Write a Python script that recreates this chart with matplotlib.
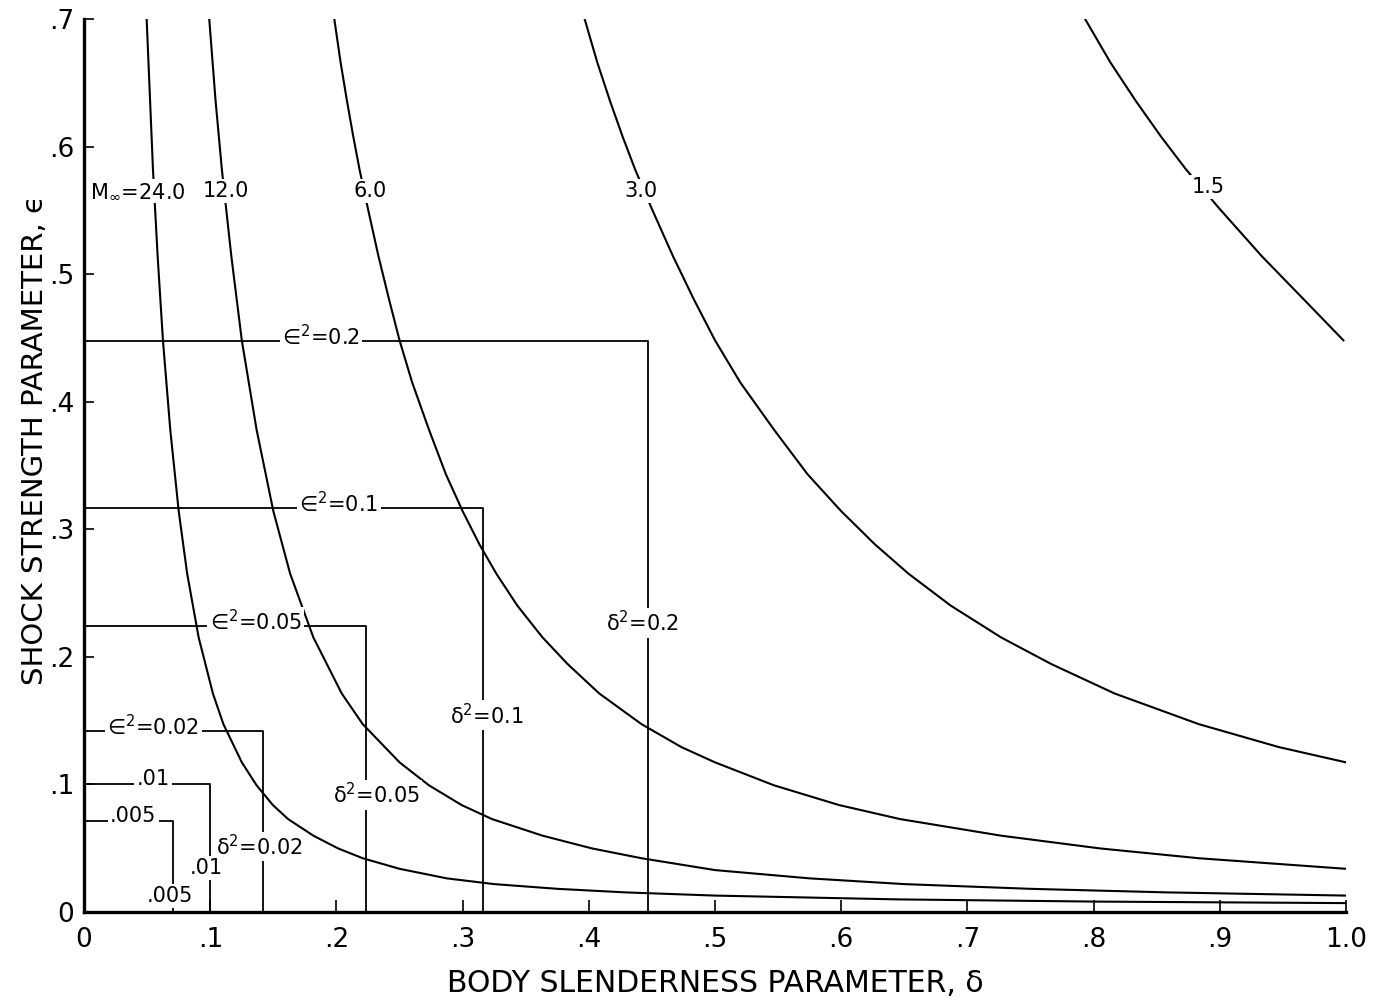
import numpy as np
import matplotlib
matplotlib.use("Agg")
import matplotlib.pyplot as plt

# curves of constant free-stream Mach number (delta, epsilon)
delta_m24 = [0.0496, 0.0546, 0.0583, 0.0625, 0.0683, 0.075, 0.0817, 0.0908, 0.1021, 0.1104, 0.125,
             0.1367, 0.1496, 0.1617, 0.1817, 0.2013, 0.2208, 0.25, 0.2875, 0.325, 0.375, 0.4292,
             0.5, 0.6458, 0.80, 1.0]
eps_m24 = [0.700, 0.582, 0.514, 0.448, 0.378, 0.314, 0.265, 0.215, 0.171, 0.147, 0.117,
           0.099, 0.0835, 0.0725, 0.0595, 0.0495, 0.0418, 0.0335, 0.026, 0.0215, 0.0178, 0.015,
           0.0125, 0.0095, 0.0078, 0.0066]

delta_m12 = [0.0992, 0.1042, 0.1092, 0.1167, 0.125, 0.1367, 0.15, 0.1633, 0.1817, 0.2042, 0.2208,
             0.25, 0.2733, 0.2992, 0.3233, 0.3633, 0.4025, 0.4417, 0.5, 0.575, 0.65, 0.75, 0.8583, 1.0]
eps_m12 = [0.700, 0.636, 0.582, 0.514, 0.448, 0.378, 0.314, 0.265, 0.215, 0.171, 0.147,
           0.117, 0.099, 0.0835, 0.0725, 0.0595, 0.0495, 0.0418, 0.0325, 0.026, 0.0215, 0.0178, 0.015, 0.0125]

delta_m6 = [0.1983, 0.2033, 0.2083, 0.2133, 0.2183, 0.225, 0.2333, 0.2417, 0.25, 0.26, 0.2733, 0.2867,
            0.30, 0.3133, 0.3267, 0.3433, 0.3633, 0.3833, 0.4083, 0.4417, 0.4733, 0.5, 0.5467,
            0.5983, 0.6467, 0.7267, 0.805, 0.8833, 1.0]
eps_m6 = [0.700, 0.666, 0.636, 0.608, 0.582, 0.551, 0.514, 0.480, 0.448, 0.415, 0.378, 0.343,
          0.314, 0.288, 0.265, 0.240, 0.215, 0.194, 0.171, 0.147, 0.129, 0.117, 0.099,
          0.0835, 0.0725, 0.0595, 0.0495, 0.0418, 0.0335]

delta_m3 = [0.3967, 0.4067, 0.4167, 0.4267, 0.4367, 0.45, 0.4667, 0.4833, 0.5, 0.52, 0.5467, 0.5733,
            0.60, 0.6267, 0.6533, 0.6867, 0.7267, 0.7667, 0.8167, 0.8833, 0.9467, 1.0]
eps_m3 = [0.700, 0.666, 0.636, 0.608, 0.582, 0.551, 0.514, 0.480, 0.448, 0.415, 0.378, 0.343,
          0.314, 0.288, 0.265, 0.240, 0.215, 0.194, 0.171, 0.147, 0.129, 0.117]

delta_m15 = [0.7933, 0.8133, 0.8333, 0.8533, 0.8733, 0.90, 0.9333, 0.9667, 0.998]
eps_m15 = [0.700, 0.666, 0.636, 0.608, 0.582, 0.551, 0.514, 0.480, 0.448]

curves = [(delta_m24, eps_m24), (delta_m12, eps_m12), (delta_m6, eps_m6),
          (delta_m3, eps_m3), (delta_m15, eps_m15)]
mach_labels = ["M$_{\\infty}$=24.0", "12.0", "6.0", "3.0", "1.5"]

# reference squares: eps^2 = delta^2 = k
sq_values = [0.2, 0.1, 0.05, 0.02, 0.01, 0.005]
eps_sq_labels = ["∈$^2$=0.2", "∈$^2$=0.1", "∈$^2$=0.05", "∈$^2$=0.02", ".01", ".005"]
delta_sq_labels = ["δ$^2$=0.2", "δ$^2$=0.1", "δ$^2$=0.05", "δ$^2$=0.02", ".01", ".005"]

xticks = [0, .1, .2, .3, .4, .5, .6, .7, .8, .9, 1.0]
xtick_labels = ["0", ".1", ".2", ".3", ".4", ".5", ".6", ".7", ".8", ".9", "1.0"]
yticks = [0, .1, .2, .3, .4, .5, .6, .7]
ytick_labels = ["0", ".1", ".2", ".3", ".4", ".5", ".6", ".7"]

plt.rcParams["font.family"] = ["DejaVu Sans"]
fig = plt.figure(figsize=(13.85, 10.02), dpi=100)
ax = fig.add_axes([0.0607, 0.0903, 0.9111, 0.8907])
ax.set_xlim(0, 1.0)
ax.set_ylim(0, 0.7)

for d, e in curves:
    ax.plot(d, e, color="k", lw=1.5, solid_joinstyle="round", zorder=2)

for k in sq_values:
    s = np.sqrt(k)
    ax.plot([0, s, s], [s, s, 0], color="k", lw=1.3, zorder=2)

box = dict(facecolor="white", edgecolor="none", pad=1.5)

# Mach labels sit in gaps of the curves
mach_pos = [(0.0425, 0.565), (0.1121, 0.565), (0.2266, 0.565), (0.441, 0.565), (0.891, 0.568)]
for lab, (x, y) in zip(mach_labels, mach_pos):
    ax.text(x, y, lab, fontsize=15, ha="center", va="center", bbox=box, zorder=4)

eps_lab_x = [0.188, 0.202, 0.136, 0.055, 0.0547, 0.039]
for lab, k, x in zip(eps_sq_labels, sq_values, eps_lab_x):
    ax.text(x, np.sqrt(k) + 0.004, lab, fontsize=15, ha="center", va="center", bbox=box, zorder=4)

delta_lab_pos = [(0.442, 0.2264), (0.319, 0.154), (0.232, 0.0914), (0.139, 0.0509), (0.0967, 0.034), (0.068, 0.0122)]
for lab, (x, y) in zip(delta_sq_labels, delta_lab_pos):
    ax.text(x, y, lab, fontsize=15, ha="center", va="center", bbox=box, zorder=4)

for side in ("top", "right"):
    ax.spines[side].set_visible(False)
for side in ("left", "bottom"):
    ax.spines[side].set_linewidth(2.4)
    ax.spines[side].set_zorder(5)

ax.set_xticks(xticks)
ax.set_xticklabels(xtick_labels)
ax.set_yticks(yticks)
ax.set_yticklabels(ytick_labels)
ax.tick_params(axis="x", direction="in", length=9, width=1.2, pad=11, labelsize=19)
ax.tick_params(axis="y", direction="in", length=7, width=1.2, pad=7, labelsize=19)

ax.set_xlabel("BODY SLENDERNESS PARAMETER, δ", fontsize=21.5, labelpad=12)
ax.set_ylabel("SHOCK STRENGTH PARAMETER, ϵ", fontsize=21)
ax.yaxis.set_label_coords(-0.028, 0.528)

fig.savefig("out.png", dpi=100)
